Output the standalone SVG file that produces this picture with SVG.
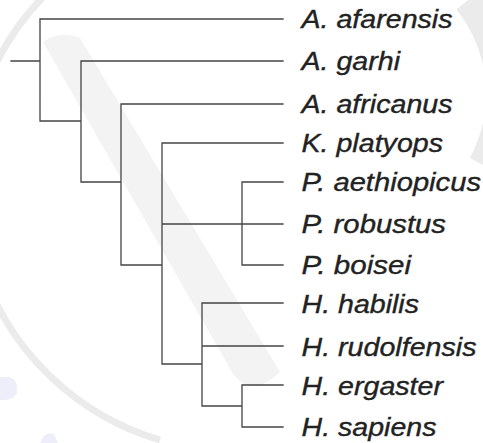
<svg xmlns="http://www.w3.org/2000/svg" width="483" height="443" viewBox="0 0 483 443">
<style>
.wm{fill:none;stroke:#ebebeb}
.bf{fill:#f3f3f3}
.bl{fill:#eeeefb}
.edge{fill:none;stroke:#444;stroke-width:1.3;stroke-linecap:square}
.lbl{font-family:"Liberation Sans",Arial,sans-serif;font-style:italic;font-size:25px;fill:#222;stroke:#222;stroke-width:0.35}
</style>
<rect width="483" height="443" fill="#fff"/>
<g id="watermark">
<path class="bf" d="M43,42 Q60,30 80,38 L280,372 Q250,400 232,372 Z"/>
<path class="wm" stroke-width="7" d="M42,-2 A268,268 0 0 0 160,440"/>
<path class="wm" stroke-width="30" d="M468,0 A150,150 0 0 1 483,165"/>
<path class="bl" d="M0,377 L10,377 Q17,380 17,388 L17,394 Q12,400 4,400 L0,400 Z"/>
<path class="bl" d="M40,443 L44,436 Q48,432 54,434 L58,443 Z"/>
</g>
<g id="connectors">
<path class="edge" d="M11,61 H40 M40,19 V121 M40,19 H283 M40,121 H81 M81,61 V182 M81,61 H283 M81,182 H121 M121,104 V265 M121,104 H283 M121,265 H162 M162,143 V364 M162,143 H283 M162,224 H283 M242,182 V265 M242,182 H283 M242,265 H283 M162,364 H202 M202,303 V406 M202,303 H283 M202,346 H283 M202,406 H242 M242,385 V427 M242,385 H283 M242,427 H283"/>
</g>
<g id="n-afarensis"><text class="lbl" x="301.5" y="27.5" textLength="151" lengthAdjust="spacingAndGlyphs">A. afarensis</text></g>
<g id="n-garhi"><text class="lbl" x="301.5" y="70" textLength="98.5" lengthAdjust="spacingAndGlyphs">A. garhi</text></g>
<g id="n-africanus"><text class="lbl" x="301.5" y="112.5" textLength="151" lengthAdjust="spacingAndGlyphs">A. africanus</text></g>
<g id="n-platyops"><text class="lbl" x="301.5" y="152" textLength="141.5" lengthAdjust="spacingAndGlyphs">K. platyops</text></g>
<g id="n-aethiopicus"><text class="lbl" x="301.5" y="191" textLength="179.5" lengthAdjust="spacingAndGlyphs">P. aethiopicus</text></g>
<g id="n-robustus"><text class="lbl" x="301.5" y="233" textLength="144.5" lengthAdjust="spacingAndGlyphs">P. robustus</text></g>
<g id="n-boisei"><text class="lbl" x="301.5" y="274" textLength="109.5" lengthAdjust="spacingAndGlyphs">P. boisei</text></g>
<g id="n-habilis"><text class="lbl" x="301.5" y="313" textLength="117.5" lengthAdjust="spacingAndGlyphs">H. habilis</text></g>
<g id="n-rudolfensis"><text class="lbl" x="301.5" y="356" textLength="175" lengthAdjust="spacingAndGlyphs">H. rudolfensis</text></g>
<g id="n-ergaster"><text class="lbl" x="301.5" y="394.5" textLength="141.5" lengthAdjust="spacingAndGlyphs">H. ergaster</text></g>
<g id="n-sapiens"><text class="lbl" x="301.5" y="436" textLength="135" lengthAdjust="spacingAndGlyphs">H. sapiens</text></g>
</svg>
